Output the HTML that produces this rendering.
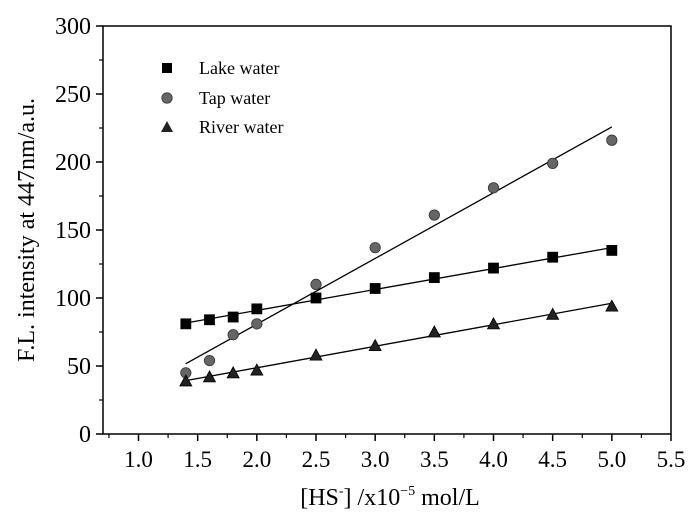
<!DOCTYPE html>
<html><head><meta charset="utf-8"><style>
body{margin:0;background:#fff}
svg{font-family:"Liberation Serif",serif}
</style></head><body>
<svg width="700" height="522" id="c">
<text x="34" y="230" font-size="24" text-anchor="middle" transform="rotate(-90 34 230)">F.L. intensity at 447nm/a.u.</text>
<text x="390" y="505" font-size="24" text-anchor="middle">[HS<tspan font-size="14" dy="-10">-</tspan><tspan dy="10">] /x10</tspan><tspan font-size="14" dy="-10">−5</tspan><tspan dy="10"> mol/L</tspan></text>
</svg>
<script>
const xs=[1.4,1.6,1.8,2.0,2.5,3.0,3.5,4.0,4.5,5.0];
const lake=[81,84,86,92,100,107,115,122,130,135];
const tap=[45,54,73,81,110,137,161,181,199,216];
const river=[39,42,45,47,58,65,75,81,88,94];
const xTicks=["1.0","1.5","2.0","2.5","3.0","3.5","4.0","4.5","5.0","5.5"];
const yTicks=["0","50","100","150","200","250","300"];
const L=103,R=671,T=26,B=434,X0=0.7,X1=5.5,Y0=0,Y1=300;
const sx=v=>L+(v-X0)/(X1-X0)*(R-L);
const sy=v=>B-(v-Y0)/(Y1-Y0)*(B-T);
const NS="http://www.w3.org/2000/svg";
const svg=document.getElementById('c');
function mk(t,a){const e=document.createElementNS(NS,t);for(const k in a)e.setAttribute(k,a[k]);svg.appendChild(e);return e;}
let e=mk('rect',{x:L,y:T,width:R-L,height:B-T,fill:'none',stroke:'#000','stroke-width':1.5});


xTicks.forEach(t=>{const v=+t;const x=sx(v);
 mk('line',{x1:x,y1:B,x2:x,y2:B+7,stroke:'#000','stroke-width':1.5});
 const m=sx(v-0.25); if(m>L) mk('line',{x1:m,y1:B,x2:m,y2:B+4,stroke:'#000','stroke-width':1.2});
 const tx=mk('text',{x:x,y:B+33,'font-size':23,'text-anchor':'middle'});tx.textContent=t;
 
 });
yTicks.forEach(t=>{const v=+t;const y=sy(v);
 mk('line',{x1:L-7,y1:y,x2:L,y2:y,stroke:'#000','stroke-width':1.5});
 if(v<300) mk('line',{x1:L-4,y1:sy(v+25),x2:L,y2:sy(v+25),stroke:'#000','stroke-width':1.2});
 const tx=mk('text',{x:L-12,y:y+8,'font-size':24,'text-anchor':'end'});tx.textContent=t;
 
 });
function fit(ys){const n=xs.length;let mx=0,my=0;xs.forEach((x,i)=>{mx+=x;my+=ys[i]});mx/=n;my/=n;let a=0,b=0;xs.forEach((x,i)=>{a+=(x-mx)*(ys[i]-my);b+=(x-mx)**2});const k=a/b;return x=>my+k*(x-mx);}
function series(ys,shape,name,fill){
 const f=fit(ys);const x0=xs[0],x1=xs[xs.length-1];
 const ln=mk('line',{x1:sx(x0),y1:sy(f(x0)),x2:sx(x1),y2:sy(f(x1)),stroke:'#000','stroke-width':1.3});
 
 
 xs.forEach((x,i)=>{const px=sx(x),py=sy(ys[i]);let m;
  if(shape==='sq')m=mk('rect',{x:px-5,y:py-5,width:10,height:10,fill:fill,stroke:'#000','stroke-width':0.8});
  else if(shape==='ci')m=mk('circle',{cx:px,cy:py,r:5.2,fill:fill,stroke:'#333','stroke-width':0.8});
  else m=mk('polygon',{points:`${px},${py-6} ${px-6},${py+5} ${px+6},${py+5}`,fill:fill,stroke:'#000','stroke-width':0.8});
  
  });
}
series(lake,'sq','lake-water','#000');
series(tap,'ci','tap-water','#666');
series(river,'tr','river-water','#222');
const lg=[['sq','Lake water','#000',68],['ci','Tap water','#666',98],['tr','River water','#222',127]];
lg.forEach(([s,t,f,y])=>{const x=167;let m;
 if(s==='sq')m=mk('rect',{x:x-5,y:y-5,width:10,height:10,fill:f});
 else if(s==='ci')m=mk('circle',{cx:x,cy:y,r:5.2,fill:f,stroke:'#333','stroke-width':0.8});
 else m=mk('polygon',{points:`${x},${y-6} ${x-6},${y+5} ${x+6},${y+5}`,fill:f});
 
 
 const tx=mk('text',{x:199,y:y+6,'font-size':18});tx.textContent=t;
 
 });
</script>
</body></html>
